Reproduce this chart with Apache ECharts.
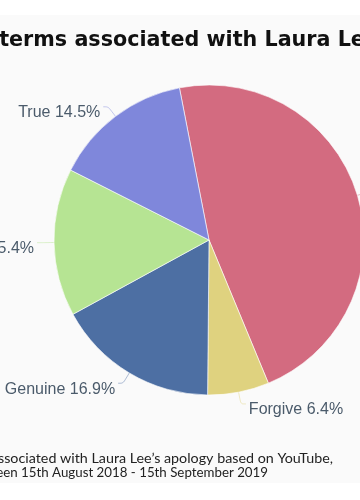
<!DOCTYPE html>
<html><head><meta charset="utf-8">
<script src="https://cdn.jsdelivr.net/npm/echarts@6/dist/echarts.min.js"></script>
<style>
html,body{margin:0;padding:0;background:#fff;width:360px;height:500px;overflow:hidden;position:relative;}
#c{position:absolute;left:-91px;top:15px;width:600px;height:468px;background:#fafafa;}
</style></head>
<body><div id="c"></div>
<script>
const categories = ["Fake", "Forgive", "Genuine", "Sorry", "True"];
const shares = [46.8, 6.4, 16.9, 15.4, 14.5];
const colors = ["#d36b80", "#dfd27f", "#4d6fa3", "#b6e493", "#7f87db"];
const titleText = "Top terms associated with Laura Lee\u2019s apology";
const captionLine1 = "Top terms associated with Laura Lee\u2019s apology based on YouTube,";
const captionLine2 = "comments between 15th August 2018 - 15th September 2019";

const chart = echarts.init(document.getElementById('c'), null, {renderer: 'canvas'});
chart.setOption({
  backgroundColor: '#fafafa',
  animation: false,
  color: colors,
  graphic: [
    {type: 'text', x: 42.6, y: 26,
     style: {text: titleText, font: 'bold 20.7px "DejaVu Sans"', fill: '#111', textAlign: 'left', textVerticalAlign: 'middle'}},
    {type: 'text', x: 424, y: 443,
     style: {text: captionLine1, font: '14.3px Lato', fill: '#222', textAlign: 'right', textVerticalAlign: 'middle'}},
    {type: 'text', x: 359, y: 458,
     style: {text: captionLine2, font: '13.3px Lato', fill: '#222', textAlign: 'right', textVerticalAlign: 'middle'}}
  ],
  series: [{
    type: 'pie',
    center: ['50%', 225],
    radius: 155,
    startAngle: 101,
    avoidLabelOverlap: false,
    itemStyle: {borderColor: '#ffffff', borderWidth: 0.6},
    label: {
      formatter: p => p.name + ' ' + p.value.toFixed(1) + '%',
      fontFamily: 'Liberation Sans', fontSize: 16, color: '#4b5b6b',
      offset: [0, 6], distanceToLabelLine: 3
    },
    labelLine: {length: 12, length2: 5, smooth: true, lineStyle: {opacity: 0.45, width: 1}},
    data: categories.map((n, i) => ({name: n, value: shares[i]}))
  }]
});
</script></body></html>
